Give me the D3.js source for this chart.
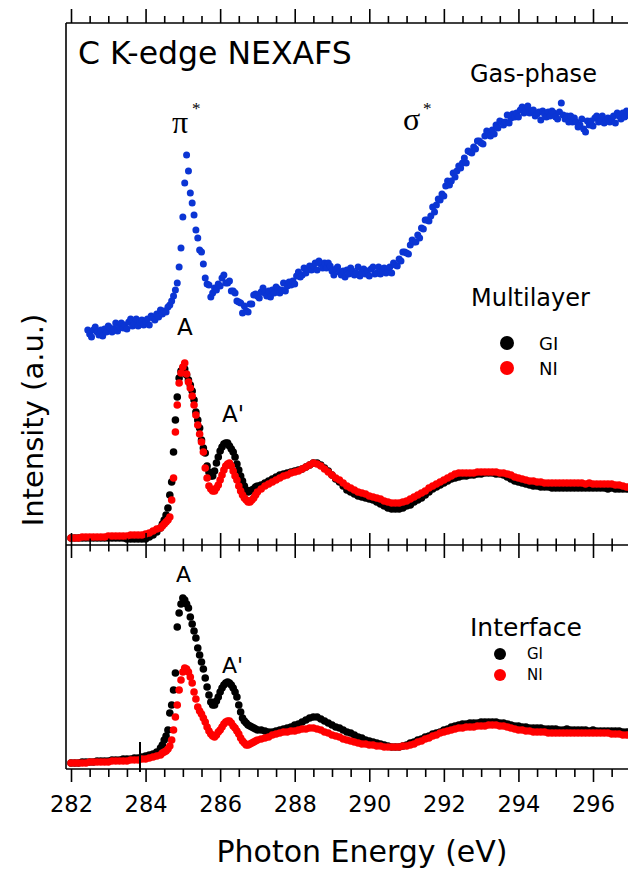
<!DOCTYPE html>
<html>
<head>
<meta charset="utf-8">
<script src="https://cdn.jsdelivr.net/npm/d3@7/dist/d3.min.js"></script>
<style>
  body { margin: 0; background: #fff; }
  svg { display: block; }
  text { font-family: "DejaVu Sans", sans-serif; fill: #000; }
</style>
</head>
<body>
<svg width="628" height="870"></svg>
<script>
// ---- DATA ----
// x ticks (eV)
var majorTicks = [282, 284, 286, 288, 290, 292, 294, 296];

// energy grids: 0.1 eV below the edge, 0.05 eV across the edge, 0.1 eV above
var gridA = d3.range(24).map(function(i) { return 282.0 + i * 0.1; });   // 282.0 - 284.3
var gridB = d3.range(52).map(function(i) { return 284.4 + i * 0.05; });  // 284.4 - 286.95
var gridC = d3.range(101).map(function(i) { return 287.0 + i * 0.1; });  // 287.0 - 297.0
var energy = gridA.concat(gridB, gridC);
var gasEnergy = d3.range(292).map(function(i) { return 282.45 + i * 0.05; }); // 282.45 - 297.0

// gas-phase (blue), offset in upper panel
var gasPhase = [
  2.15,2.11,2.08,2.15,2.18,2.13,2.10,2.15,2.09,2.16,
  2.13,2.19,2.17,2.13,2.16,2.22,2.14,2.18,2.22,2.17,
  2.20,2.16,2.23,2.26,2.19,2.21,2.26,2.19,2.23,2.25,
  2.20,2.24,2.26,2.20,2.29,2.27,2.25,2.31,2.28,2.35,
  2.31,2.34,2.33,2.38,2.40,2.44,2.49,2.55,2.62,2.78,
  2.97,3.28,3.62,3.90,3.74,3.52,3.42,3.30,3.15,3.07,
  2.95,2.93,2.81,2.67,2.61,2.60,2.48,2.52,2.57,2.55,
  2.61,2.59,2.67,2.70,2.62,2.62,2.64,2.54,2.54,2.52,
  2.44,2.43,2.42,2.32,2.39,2.34,2.33,2.41,2.41,2.50,
  2.51,2.49,2.47,2.53,2.57,2.52,2.49,2.54,2.48,2.55,
  2.52,2.58,2.56,2.52,2.55,2.62,2.54,2.59,2.63,2.60,
  2.64,2.61,2.69,2.73,2.68,2.70,2.77,2.72,2.76,2.79,
  2.75,2.79,2.82,2.75,2.84,2.81,2.77,2.82,2.77,2.82,
  2.79,2.74,2.70,2.76,2.78,2.73,2.70,2.74,2.68,2.75,
  2.71,2.77,2.74,2.70,2.72,2.78,2.69,2.73,2.76,2.71,
  2.74,2.69,2.76,2.78,2.71,2.72,2.78,2.71,2.74,2.77,
  2.72,2.76,2.78,2.72,2.82,2.80,2.79,2.86,2.84,2.93,
  2.93,2.92,2.91,3.00,3.05,3.03,3.03,3.10,3.07,3.17,
  3.16,3.25,3.25,3.24,3.29,3.38,3.33,3.40,3.46,3.45,
  3.51,3.49,3.59,3.64,3.60,3.64,3.72,3.68,3.74,3.79,
  3.77,3.82,3.87,3.82,3.94,3.93,3.92,3.98,3.96,4.04,
  4.04,4.02,4.01,4.09,4.14,4.11,4.09,4.15,4.11,4.20,
  4.17,4.24,4.23,4.20,4.23,4.30,4.22,4.27,4.31,4.28,
  4.32,4.28,4.35,4.38,4.32,4.34,4.39,4.32,4.34,4.35,
  4.29,4.31,4.33,4.25,4.34,4.31,4.28,4.33,4.29,4.34,
  4.32,4.28,4.26,4.33,4.42,4.30,4.26,4.29,4.23,4.29,
  4.23,4.27,4.23,4.18,4.20,4.26,4.16,4.13,4.24,4.20,
  4.24,4.19,4.27,4.29,4.23,4.24,4.29,4.22,4.25,4.27,
  4.23,4.26,4.29,4.22,4.32,4.29,4.26,4.32,4.28,4.34,
  4.31,4.29
];

// multilayer GI (black)
var multiGI = [
  0.07,0.07,0.07,0.07,0.07,0.07,0.07,0.07,0.07,0.07,
  0.07,0.07,0.07,0.07,0.07,0.06,0.06,0.06,0.06,0.06,
  0.06,0.08,0.10,0.13,
  0.17,0.21,0.25,0.30,0.37,0.50,0.63,0.93,1.25,1.48,
  1.67,1.74,1.77,1.76,1.70,1.65,1.60,1.54,1.45,1.33,
  1.25,1.17,1.05,0.97,0.92,0.79,0.73,0.69,0.69,0.74,
  0.82,0.88,0.94,0.98,1.01,1.02,1.02,0.99,0.96,0.93,
  0.88,0.81,0.75,0.69,0.64,0.59,0.55,0.53,0.54,0.55,
  0.56,0.58,
  0.59,0.60,0.62,0.64,0.66,0.68,0.70,0.71,0.72,0.73,
  0.74,0.75,0.76,0.78,0.80,0.82,0.82,0.80,0.77,0.74,
  0.70,0.66,0.63,0.59,0.55,0.53,0.51,0.49,0.48,0.47,
  0.46,0.45,0.43,0.41,0.39,0.37,0.36,0.36,0.36,0.37,
  0.39,0.40,0.43,0.45,0.47,0.50,0.53,0.56,0.58,0.60,
  0.62,0.64,0.66,0.67,0.68,0.69,0.69,0.70,0.70,0.71,
  0.71,0.72,0.72,0.72,0.71,0.71,0.70,0.68,0.66,0.64,
  0.63,0.62,0.61,0.60,0.59,0.59,0.58,0.58,0.58,0.57,
  0.57,0.57,0.57,0.57,0.57,0.57,0.57,0.57,0.57,0.57,
  0.57,0.57,0.57,0.57,0.56,0.57,0.56,0.56,0.56,0.56,
  0.56
];

// multilayer NI (red)
var multiNI = [
  0.07,0.07,0.07,0.08,0.08,0.08,0.08,0.08,0.08,0.08,
  0.09,0.09,0.09,0.09,0.09,0.09,0.10,0.10,0.10,0.10,
  0.11,0.12,0.14,0.16,
  0.17,0.19,0.21,0.23,0.25,0.28,0.45,0.67,1.13,1.40,
  1.62,1.72,1.78,1.82,1.71,1.63,1.57,1.49,1.40,1.30,
  1.20,1.11,1.03,0.93,0.77,0.67,0.59,0.56,0.54,0.54,
  0.57,0.60,0.65,0.70,0.75,0.79,0.81,0.82,0.79,0.74,
  0.69,0.65,0.59,0.54,0.50,0.47,0.45,0.43,0.43,0.45,
  0.47,0.50,
  0.53,0.56,0.59,0.61,0.63,0.65,0.67,0.69,0.70,0.72,
  0.73,0.74,0.76,0.78,0.80,0.82,0.81,0.79,0.76,0.73,
  0.70,0.67,0.65,0.62,0.59,0.57,0.55,0.53,0.52,0.51,
  0.49,0.48,0.47,0.46,0.44,0.43,0.42,0.42,0.42,0.43,
  0.44,0.46,0.48,0.50,0.52,0.54,0.57,0.59,0.61,0.63,
  0.65,0.67,0.69,0.71,0.72,0.72,0.72,0.72,0.72,0.73,
  0.73,0.73,0.73,0.73,0.73,0.72,0.72,0.71,0.70,0.68,
  0.67,0.66,0.65,0.64,0.64,0.63,0.63,0.62,0.62,0.62,
  0.62,0.62,0.62,0.62,0.62,0.62,0.62,0.62,0.61,0.62,
  0.61,0.61,0.61,0.61,0.61,0.61,0.60,0.60,0.59,0.58,
  0.58
];

// interface GI (black)
var interGI = [
  0.06,0.06,0.06,0.07,0.07,0.07,0.07,0.08,0.08,0.08,
  0.08,0.09,0.09,0.09,0.10,0.10,0.10,0.11,0.11,0.12,
  0.13,0.14,0.15,0.17,
  0.21,0.24,0.29,0.33,0.39,0.56,0.64,0.79,0.96,1.42,
  1.56,1.65,1.71,1.69,1.65,1.61,1.52,1.45,1.38,1.31,
  1.21,1.14,1.07,1.00,0.91,0.82,0.74,0.67,0.64,0.64,
  0.68,0.72,0.77,0.81,0.84,0.86,0.87,0.86,0.84,0.81,
  0.77,0.72,0.64,0.57,0.51,0.48,0.46,0.44,0.43,0.42,
  0.41,0.40,
  0.39,0.39,0.38,0.37,0.37,0.38,0.39,0.40,0.41,0.42,
  0.44,0.45,0.47,0.49,0.51,0.52,0.52,0.50,0.48,0.46,
  0.44,0.42,0.41,0.39,0.37,0.36,0.34,0.32,0.31,0.29,
  0.28,0.27,0.26,0.25,0.24,0.23,0.22,0.22,0.22,0.23,
  0.24,0.26,0.27,0.29,0.30,0.32,0.33,0.35,0.36,0.37,
  0.39,0.40,0.42,0.43,0.44,0.45,0.45,0.46,0.46,0.46,
  0.47,0.47,0.47,0.47,0.47,0.46,0.46,0.45,0.44,0.43,
  0.43,0.42,0.42,0.41,0.41,0.41,0.41,0.40,0.40,0.40,
  0.40,0.39,0.39,0.40,0.39,0.39,0.39,0.39,0.39,0.38,
  0.39,0.38,0.38,0.38,0.38,0.38,0.38,0.38,0.37,0.37,
  0.37
];

// interface NI (red)
var interNI = [
  0.06,0.06,0.06,0.06,0.06,0.07,0.07,0.07,0.07,0.07,
  0.07,0.08,0.08,0.08,0.08,0.08,0.09,0.09,0.09,0.10,
  0.10,0.11,0.12,0.13,
  0.14,0.16,0.17,0.18,0.20,0.23,0.29,0.39,0.52,0.64,
  0.79,0.89,0.97,1.01,1.00,0.97,0.92,0.86,0.77,0.70,
  0.62,0.58,0.55,0.51,0.47,0.42,0.38,0.35,0.33,0.32,
  0.34,0.37,0.39,0.42,0.45,0.47,0.48,0.48,0.46,0.43,
  0.41,0.38,0.35,0.31,0.28,0.26,0.24,0.24,0.25,0.26,
  0.27,0.28,
  0.29,0.30,0.31,0.32,0.34,0.35,0.36,0.37,0.37,0.38,
  0.38,0.39,0.40,0.40,0.41,0.41,0.40,0.39,0.37,0.36,
  0.34,0.33,0.32,0.30,0.29,0.28,0.27,0.26,0.25,0.25,
  0.24,0.24,0.23,0.23,0.22,0.22,0.22,0.22,0.22,0.23,
  0.23,0.24,0.25,0.27,0.28,0.30,0.31,0.33,0.34,0.36,
  0.37,0.38,0.39,0.40,0.41,0.41,0.42,0.42,0.42,0.43,
  0.43,0.43,0.44,0.44,0.44,0.43,0.43,0.42,0.41,0.40,
  0.39,0.39,0.38,0.38,0.37,0.37,0.37,0.37,0.36,0.36,
  0.36,0.36,0.36,0.36,0.36,0.36,0.36,0.36,0.36,0.36,
  0.36,0.36,0.36,0.36,0.36,0.35,0.35,0.35,0.34,0.34,
  0.34
];

var edgeMarker = 283.85; // vertical bar in the lower panel

// ---- LAYOUT ----
var svg = d3.select("svg");
var frameLeft = 66, frameRight = 628;
var topY = 23, midY = 545, botY = 769;

var x = d3.scaleLinear().domain([282, 296]).range([71, 593]);
var yTop = d3.scaleLinear().domain([0, 5.22]).range([midY, topY]);
var yBot = d3.scaleLinear().domain([0, 2.24]).range([botY, midY]);

var minorTicks = d3.range(282.5, 297, 0.5).filter(function(v) { return v % 2 !== 0; });

// draw a scatter series
function drawDots(xs, ys, yScale, color, r) {
  svg.append("g").selectAll("circle")
    .data(ys)
    .enter()
      .append("circle")
      .attr("cx", function(d, i) { return x(xs[i]); })
      .attr("cy", function(d) { return yScale(d); })
      .attr("r", r)
      .style("fill", color);
}

var blue = "#0b35d4", red = "#ff0000", black = "#000000";

drawDots(gasEnergy, gasPhase, yTop, blue, 3.5);
drawDots(energy, multiGI, yTop, black, 3.8);
drawDots(energy, multiNI, yTop, red, 3.8);
drawDots(energy, interGI, yBot, black, 3.8);
drawDots(energy, interNI, yBot, red, 3.8);

// ---- AXES ----
function tickAxis(axisFn, y, values, size) {
  var g = svg.append("g")
    .attr("transform", "translate(0," + y + ")")
    .call(axisFn(x).tickValues(values).tickSize(size).tickSizeOuter(0).tickFormat(""));
  g.select(".domain").remove();
  g.selectAll("line").attr("stroke", "#000").attr("stroke-width", 1.6);
  return g;
}

// top edge: ticks outward
tickAxis(d3.axisTop, topY, majorTicks, 14);
tickAxis(d3.axisTop, topY, minorTicks, 7);
// shared middle axis: ticks cross the line
tickAxis(d3.axisTop, midY, majorTicks, 12);
tickAxis(d3.axisBottom, midY, majorTicks, 13);
tickAxis(d3.axisTop, midY, minorTicks, 6.5);
tickAxis(d3.axisBottom, midY, minorTicks, 6.5);
// bottom axis with labels
tickAxis(d3.axisBottom, botY, minorTicks, 8);
var bottomAxis = svg.append("g")
  .attr("transform", "translate(0," + botY + ")")
  .call(d3.axisBottom(x).tickValues(majorTicks).tickSize(13).tickSizeOuter(0).tickPadding(14).tickFormat(d3.format("d")));
bottomAxis.select(".domain").remove();
bottomAxis.selectAll("line").attr("stroke", "#000").attr("stroke-width", 1.6);
bottomAxis.selectAll("text")
  .style("font-family", "DejaVu Sans, sans-serif")
  .style("font-size", "22.5px")
  .attr("fill", "#000");

// frame lines
var frame = svg.append("g").attr("stroke", "#000").attr("stroke-width", 1.6);
frame.append("line").attr("x1", frameLeft).attr("x2", frameLeft).attr("y1", topY).attr("y2", botY);
[topY, midY, botY].forEach(function(yy) {
  frame.append("line").attr("x1", frameLeft).attr("x2", frameRight).attr("y1", yy).attr("y2", yy);
});

// edge marker in lower panel
svg.append("line")
  .attr("x1", x(edgeMarker)).attr("x2", x(edgeMarker))
  .attr("y1", botY - 27).attr("y2", botY + 3)
  .attr("stroke", "#000").attr("stroke-width", 2);

// ---- TEXT ----
function label(txt, px, py, size, opts) {
  opts = opts || {};
  return svg.append("text")
    .attr("x", px).attr("y", py)
    .style("font-size", size + "px")
    .style("font-family", opts.family || "DejaVu Sans, sans-serif")
    .attr("text-anchor", opts.anchor || "start")
    .text(txt);
}

label("C K-edge NEXAFS", 78, 64, 31.5);
label("Gas-phase", 470, 82, 24);

// peak labels (Greek, serif)
label("\u03C0", 172, 133, 32, { family: "Liberation Serif, serif" });
label("*", 192, 114, 17, { family: "Liberation Serif, serif" });
label("\u03C3", 403, 130, 32, { family: "Liberation Serif, serif" });
label("*", 423, 114, 17, { family: "Liberation Serif, serif" });

label("A", 177, 335, 23);
label("A'", 222, 422, 23);
label("A", 176, 582, 22);
label("A'", 222, 673, 22);

// legends
label("Multilayer", 471, 306, 24);
svg.append("circle").attr("cx", 507).attr("cy", 343).attr("r", 7).style("fill", black);
svg.append("circle").attr("cx", 507).attr("cy", 368).attr("r", 7).style("fill", red);
label("GI", 539, 350, 18);
label("NI", 539, 375, 18);

label("Interface", 470, 636, 25);
svg.append("circle").attr("cx", 500).attr("cy", 654).attr("r", 6).style("fill", black);
svg.append("circle").attr("cx", 500).attr("cy", 675).attr("r", 6).style("fill", red);
label("GI", 527, 659, 15);
label("NI", 527, 680, 15);

// axis titles
label("Photon Energy (eV)", 362, 862, 30, { anchor: "middle" });
svg.append("text")
  .attr("transform", "translate(43,420) rotate(-90)")
  .attr("text-anchor", "middle")
  .style("font-size", "29px")
  .style("font-family", "DejaVu Sans, sans-serif")
  .text("Intensity (a.u.)");
</script>
</body>
</html>
